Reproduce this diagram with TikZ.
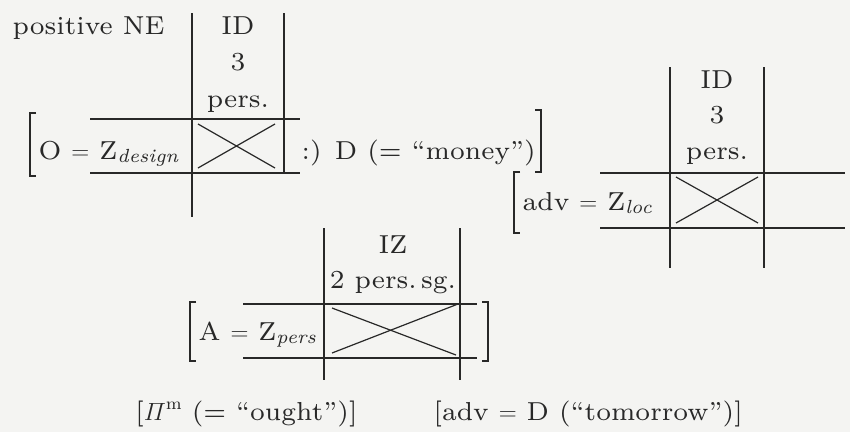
\documentclass[tikz,border=0pt]{standalone}
\usepackage{amsmath}
\usepackage{fontspec}
\setmainfont{lmroman7-regular.otf}[ItalicFont=lmroman7-italic.otf]
\definecolor{paper}{RGB}{244,244,242}
\definecolor{ink}{RGB}{40,40,40}
\newcommand{\subit}[1]{\raisebox{-0.3ex}{\fontsize{19}{22}\selectfont\itshape #1}}
\begin{document}
\begin{tikzpicture}[x=1pt,y=-1pt,line width=1.2pt,draw=ink,
  lbl/.style={inner sep=0pt,text=ink,font=\fontsize{26}{32}\selectfont,anchor=base},
  lft/.style={lbl,anchor=base west},
  rgt/.style={lbl,anchor=base east}]
\fill[paper] (0,0) rectangle (850,432);
\useasboundingbox (0,0) rectangle (850,432);
% first block
\node[lft] (ne) at (12,34) {positive NE};
\node[lbl] (id1) at (238,34) {ID};
\node[lbl] (three1) at (238,70) {3};
\node[lbl] (pers1) at (238,107) {pers.};
\draw (192,13) -- (192,217);
\draw (284,13) -- (284,173);
\draw (90,119) -- (300,119);
\draw (90,173) -- (300,173);
\draw (198,124) -- (275,168);
\draw (198,168) -- (275,124);
\draw (36,113) -- (30,113) -- (30,176) -- (36,176);
\node[lft] (obj) at (38,159) {O $=$ Z\subit{design}};
\node[lft] (money) at (301,159) {:) D (= \textquotedblleft money\textquotedblright)};
\draw (535,110) -- (541,110) -- (541,172) -- (535,172);
% second block
\node[lbl] (id2) at (717,88) {ID};
\node[lbl] (three2) at (717,123) {3};
\node[lbl] (pers2) at (717,159) {pers.};
\draw (670,67) -- (670,268);
\draw (764,67) -- (764,268);
\draw (600,173) -- (845,173);
\draw (600,228) -- (845,228);
\draw (676,177) -- (758,223);
\draw (676,223) -- (758,177);
\draw (520,172) -- (514,172) -- (514,233) -- (520,233);
\node[lft] (adv) at (522,210) {adv $=$ Z\subit{loc}};
% third block
\node[lbl] (iz) at (393,253) {IZ};
\node[lbl] (sg) at (393,288) {2 pers.\,sg.};
\draw (324,228) -- (324,380);
\draw (460,228) -- (460,380);
\draw (243,304) -- (477,304);
\draw (243,358) -- (477,358);
\draw (332,308) -- (456,355);
\draw (332,353) -- (458,304);
\draw (196,302) -- (190,302) -- (190,361) -- (196,361);
\draw (482,302) -- (488,302) -- (488,361) -- (482,361);
\node[lft] (agent) at (198,340) {A $=$ Z\subit{pers}};
% bottom line
\node[rgt] (ought) at (358,420) {[$\varPi$\raisebox{0.9ex}{\fontsize{17}{20}\selectfont m} (= \textquotedblleft ought\textquotedblright)]};
\node[lft] (tomorrow) at (433,420) {[adv $=$ D (\textquotedblleft tomorrow\textquotedblright)]};
\end{tikzpicture}
\end{document}
